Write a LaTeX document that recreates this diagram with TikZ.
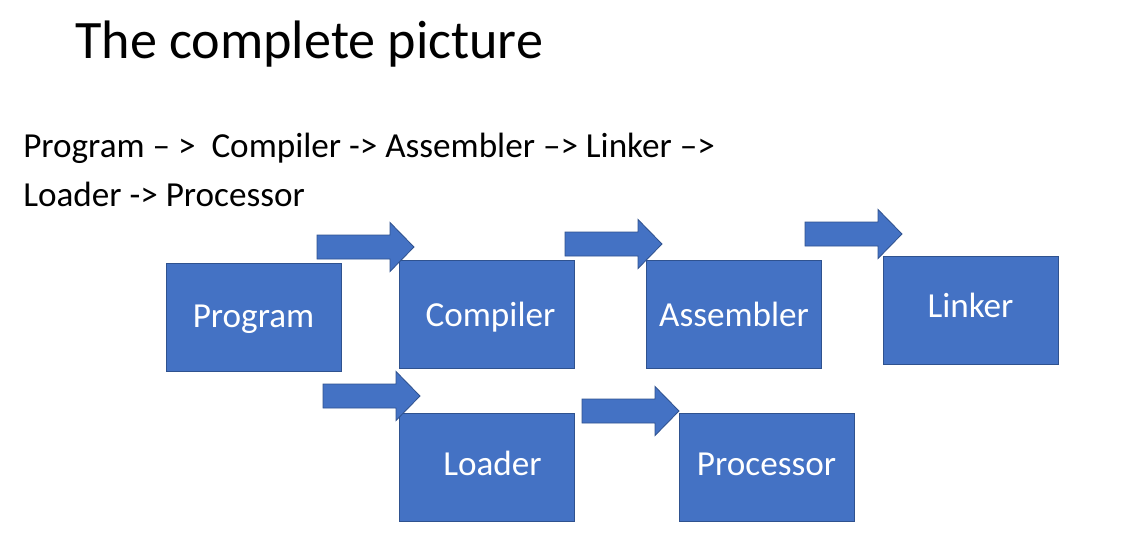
\documentclass[tikz,border=0pt]{standalone}
\usepackage{fontspec}
\setmainfont{Carlito}
\usetikzlibrary{positioning}
\definecolor{boxblue}{HTML}{4472C4}
\definecolor{boxedge}{HTML}{2F528F}
\newcommand{\flowarrow}[2]{\filldraw[blockarrow] (#1,#2) ++(0,-12) -- ++(73,0) -- ++(0,-12.5) -- ++(24,24.5) -- ++(-24,24.5) -- ++(0,-12.5) -- ++(-73,0) -- cycle;}
\tikzset{
    stagebox/.style={rectangle,draw=boxedge,fill=boxblue,line width=0.6pt,text=white,minimum width=4.375cm,minimum height=2.7cm,inner sep=0pt,text height=#1,text depth=0pt,font=\fontsize{25pt}{30pt}\selectfont},
    stagebox/.default=0.5cm,
    blockarrow/.style={draw=boxedge,fill=boxblue,line width=0.6pt,line join=miter},
    titletext/.style={anchor=base west,inner sep=0pt,font=\fontsize{38.5pt}{46pt}\selectfont},
    flowtext/.style={anchor=base west,inner sep=0pt,font=\fontsize{25pt}{30pt}\selectfont}
}
\begin{document}
\begin{tikzpicture}[x=0.025cm,y=-0.025cm]
        \useasboundingbox (0,0) rectangle (1132,541);
        \node[titletext] (title) at (75,58) {The complete picture};
        \node[flowtext] (chain) at (23,157) {Program –\ >\ \ Compiler -> Assembler –> Linker –>};
        \node[flowtext] (chaintail) at (23,206) {Loader -> Processor};
        \node[stagebox=0.52cm] (program) at (253.5,317.5) {Program};
        \node[stagebox=0.6cm] (compiler) at (486.5,314) {\hspace*{0.2cm}Compiler};
        \node[stagebox=0.6cm] (assembler) at (734,314) {Assembler};
        \node[stagebox=0.35cm] (linker) at (970.5,310) {Linker};
        \node[stagebox=0.38cm] (loader) at (486.5,467.5) {\hspace*{0.3cm}Loader};
        \node[stagebox=0.38cm] (processor) at (766.5,467.5) {Processor};
        \flowarrow{317}{247}
        \flowarrow{565}{244}
        \flowarrow{805}{234}
        \flowarrow{323}{396}
        \flowarrow{582}{411}
    \end{tikzpicture}
\end{document}
